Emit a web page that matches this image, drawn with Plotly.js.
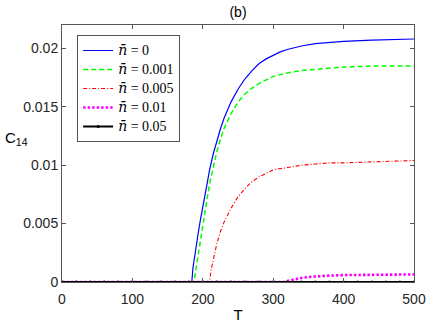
<!DOCTYPE html>
<html>
<head>
<meta charset="utf-8">
<script src="https://cdn.plot.ly/plotly-3.0.1.min.js"></script>
<style>
  html, body { margin: 0; padding: 0; background: #fff; }
  #chart { width: 436px; height: 326px; }
</style>
</head>
<body>
<div id="chart"></div>
<script>
// ---- data ----
const nbar = "<span style=\"font-family:'DejaVu Serif';font-style:italic\">n̄</span>";
const nValues = ["0", "0.001", "0.005", "0.01", "0.05"];
const seriesNames = nValues.map(v => "<span style=\"font-size:14px\">" + nbar + " = " + v + "</span>");

const T_n0 = [0, 184.4, 186, 188, 190, 193, 196, 200, 205, 210, 215, 220, 225, 230, 240, 250, 260, 270, 280, 290, 300, 310, 320, 340, 360, 380, 400, 440, 500];
const C_n0 = [0, 0, 0.0012, 0.0021, 0.0029, 0.0040, 0.0051, 0.0065, 0.0082, 0.0097, 0.0110, 0.0121, 0.0131, 0.0140, 0.0154, 0.0165, 0.0174, 0.0181, 0.0187, 0.0191, 0.0194, 0.0197, 0.0199, 0.0202, 0.0204, 0.0205, 0.0206, 0.0207, 0.0208];

const T_n0001 = [0, 187.7, 190, 193, 196, 200, 205, 210, 215, 220, 225, 230, 240, 250, 260, 270, 280, 290, 300, 320, 340, 360, 380, 400, 450, 500];
const C_n0001 = [0, 0, 0.0010, 0.0022, 0.0033, 0.0048, 0.0067, 0.0085, 0.0100, 0.0112, 0.0122, 0.0131, 0.0144, 0.0154, 0.0161, 0.0166, 0.0170, 0.0173, 0.0176, 0.0179, 0.0181, 0.0182, 0.0183, 0.0184, 0.0185, 0.0185];

const T_n0005 = [0, 209.5, 212, 215, 220, 225, 230, 240, 250, 260, 270, 280, 290, 300, 320, 340, 360, 380, 400, 450, 500];
const C_n0005 = [0, 0, 0.0011, 0.0020, 0.0033, 0.0043, 0.0051, 0.0063, 0.0073, 0.0080, 0.0086, 0.0090, 0.0093, 0.0096, 0.0098, 0.0100, 0.0101, 0.0102, 0.0102, 0.0103, 0.0104];

const T_n001 = [0, 315, 320, 330, 340, 350, 360, 380, 400, 450, 500];
const C_n001 = [0, 0, 0.00008, 0.00022, 0.00035, 0.00043, 0.00048, 0.00055, 0.00059, 0.00063, 0.00065];

const T_n005 = [0, 20, 40, 60, 80, 100, 120, 140, 160, 180, 200, 220, 240, 260, 280, 300, 320, 340, 360, 380, 400, 420, 440, 460, 480, 500];
const C_n005 = [0, 0, 0, 0, 0, 0, 0, 0, 0, 0, 0, 0, 0, 0, 0, 0, 0, 0, 0, 0, 0, 0, 0, 0, 0, 0];

const xTicks = [0, 100, 200, 300, 400, 500];
const yTicks = [0, 0.005, 0.01, 0.015, 0.02];
const yTickText = ["0", "0.005", "0.01", "0.015", "0.02"];

// ---- traces ----
const traces = [
  { x: T_n0, y: C_n0, name: seriesNames[0], mode: "lines",
    line: { color: "#0000ff", width: 1.2 } },
  { x: T_n0001, y: C_n0001, name: seriesNames[1], mode: "lines",
    line: { color: "#00ff00", width: 1.5, dash: "5px,3px" } },
  { x: T_n0005, y: C_n0005, name: seriesNames[2], mode: "lines",
    line: { color: "#ff0000", width: 1.1, dash: "4px,2px,1px,2px" } },
  { x: T_n001, y: C_n001, name: seriesNames[3], mode: "lines",
    line: { color: "#ff00ff", width: 2.6, dash: "2.5px,2px" } },
  { x: T_n005, y: C_n005, name: seriesNames[4], mode: "lines+markers",
    line: { color: "#000000", width: 2 },
    marker: { color: "#000000", size: 3 } }
];

const axisCommon = {
  showline: true, linecolor: "#555555", linewidth: 1,
  mirror: "ticks", ticks: "inside", ticklen: 4, tickcolor: "#555555", tickwidth: 1,
  showgrid: false, zeroline: false,
  tickfont: { family: "Liberation Sans, Arial, sans-serif", size: 14, color: "#262626" }
};

const layout = {
  width: 436, height: 326,
  margin: { l: 62, r: 22, t: 25, b: 44, pad: 0 },
  paper_bgcolor: "#ffffff", plot_bgcolor: "#ffffff",
  showlegend: true,
  title: {
    text: "(b)",
    font: { family: "Liberation Sans, Arial, sans-serif", size: 14, color: "#000000" },
    xref: "paper", x: 0.5, xanchor: "center",
    yref: "container", y: 0.962, yanchor: "middle"
  },
  xaxis: Object.assign({}, axisCommon, {
    range: [0, 500], tickmode: "array", tickvals: xTicks, ticklabelstandoff: 4,
    title: { text: "T", font: { family: "Liberation Sans, Arial, sans-serif", size: 15, color: "#000000" }, standoff: 3 }
  }),
  yaxis: Object.assign({}, axisCommon, {
    range: [0, 0.022], tickmode: "array", tickvals: yTicks, ticktext: yTickText
  }),
  legend: {
    x: 0.043, y: 0.961, xanchor: "left", yanchor: "top",
    bgcolor: "#ffffff", bordercolor: "#555555", borderwidth: 1,
    itemwidth: 30, tracegroupgap: 0,
    font: { family: "Liberation Serif, Times New Roman, serif", size: 11, color: "#000000" }
  },
  annotations: [{
    text: "C<sub>14</sub>",
    xref: "paper", yref: "paper",
    x: -0.168, y: 0.56, xanchor: "left", yanchor: "middle",
    showarrow: false,
    font: { family: "Liberation Sans, Arial, sans-serif", size: 15, color: "#000000" }
  }]
};

Plotly.newPlot("chart", traces, layout, { displayModeBar: false, staticPlot: true });
</script>
</body>
</html>
